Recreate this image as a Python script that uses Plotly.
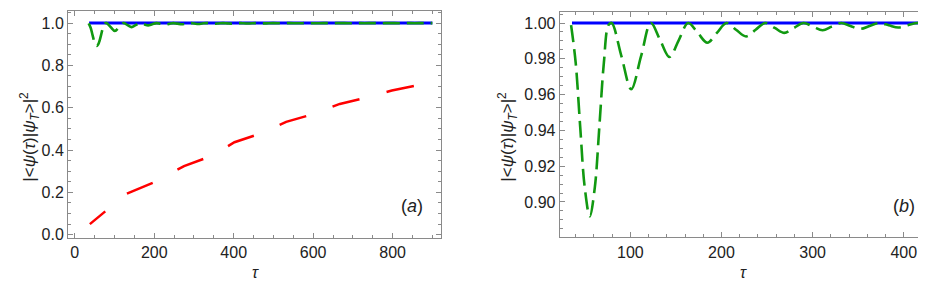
import plotly.graph_objects as go

# ---------------- data ----------------
# green: fidelity oscillation (shared by both panels; panel b shows tau <= 421)
tau_green = [35, 40, 45, 50, 55.5, 61, 66, 71, 76, 79.5,
             90.2, 101, 111.8, 122.5,
             132.7, 143, 153.2, 163.5,
             174, 184.5, 195, 205.5,
             216, 227, 237.5, 248,
             258.5, 269, 279.5, 290,
             300.5, 311, 321, 331.5,
             341.5, 352, 362.5, 373,
             383.5, 394, 404.5, 415, 421,
             436, 457, 478, 499, 520, 541, 562, 583, 604, 625,
             646, 667, 688, 709, 730, 751, 772, 793, 814, 835, 856, 877, 900]
fid_green = [0.9988, 0.978, 0.942, 0.908, 0.892, 0.908, 0.942, 0.978, 0.9988, 1.0,
             0.9815, 0.963, 0.9815, 1.0,
             0.9905, 0.981, 0.9905, 1.0,
             0.9945, 0.989, 0.9945, 1.0,
             0.99625, 0.9925, 0.99625, 1.0,
             0.99725, 0.9945, 0.99725, 1.0,
             0.998, 0.996, 0.998, 1.0,
             0.99835, 0.9967, 0.99835, 1.0,
             0.99875, 0.9975, 0.99875, 1.0, 0.9993,
             0.998, 1.0, 0.9984, 1.0, 0.9987, 1.0, 0.9989, 1.0, 0.999, 1.0,
             0.9991, 1.0, 0.9992, 1.0, 0.9993, 1.0, 0.9993, 1.0, 0.9994, 1.0, 0.9994, 1.0, 0.9997]

# blue: fidelity = 1
tau_blue_a = [36, 900]
tau_blue_b = [36, 421]
fid_blue = [1.0, 1.0]

# red: slowly rising fidelity (panel a only)
tau_red = [38, 76, 130, 197, 275, 344, 402, 467, 532, 597, 667, 730, 798, 864]
fid_red = [0.050, 0.108, 0.193, 0.246, 0.324, 0.372, 0.437, 0.478, 0.533, 0.568,
           0.618, 0.646, 0.681, 0.707]

# ticks
xticks_a = [0, 200, 400, 600, 800]
yticks_a = [0.0, 0.2, 0.4, 0.6, 0.8, 1.0]
xticks_b = [100, 200, 300, 400]
yticks_b = [0.90, 0.92, 0.94, 0.96, 0.98, 1.00]

panel_labels = ["(<i>a</i>)", "(<i>b</i>)"]
x_title = "<i>τ</i>"
y_title = "|&lt;<i>ψ</i>(<i>τ</i>)|<i>ψ</i><sub><i>T</i></sub>&gt;|<sup>2</sup>"

# ---------------- figure ----------------
W, H = 926, 284
BLUE = "#0000ff"
GREEN = "#119911"
RED = "#ff0000"
FRAME = "#8a8a8a"
TXT = "#222222"
FONT = "Liberation Sans, Arial, Helvetica, sans-serif"

fig = go.Figure()

# panel a
fig.add_trace(go.Scatter(x=tau_red, y=fid_red, mode="lines",
                         line=dict(color=RED, width=2.5, dash="20px,28px,28px,28px,28px,28px,28px,28px,28px,28px,28px,28px,28px,28px,28px,28px"),
                         xaxis="x", yaxis="y", showlegend=False))
fig.add_trace(go.Scatter(x=tau_blue_a, y=fid_blue, mode="lines",
                         line=dict(color=BLUE, width=3),
                         xaxis="x", yaxis="y", showlegend=False))
fig.add_trace(go.Scatter(x=tau_green, y=fid_green, mode="lines",
                         line=dict(color=GREEN, width=2.6, dash="17px,7px", shape="spline", smoothing=1.0),
                         xaxis="x", yaxis="y", showlegend=False))

# panel b
gb_x = [t for t in tau_green if t <= 421]
gb_y = [f for t, f in zip(tau_green, fid_green) if t <= 421]
fig.add_trace(go.Scatter(x=tau_blue_b, y=fid_blue, mode="lines",
                         line=dict(color=BLUE, width=3),
                         xaxis="x2", yaxis="y2", showlegend=False))
fig.add_trace(go.Scatter(x=gb_x, y=gb_y, mode="lines",
                         line=dict(color=GREEN, width=2.6, dash="17px,7px", shape="spline", smoothing=1.0),
                         xaxis="x2", yaxis="y2", showlegend=False))

def ax(domain, rng, tickvals, fmt, minor_dtick, anchor):
    return dict(domain=domain, range=rng, tickmode="array", tickvals=tickvals,
                ticktext=[fmt.format(v) for v in tickvals],
                ticks="inside", ticklen=5, tickwidth=1, tickcolor=FRAME,
                showline=True, linecolor=FRAME, linewidth=1, mirror="allticks",
                showgrid=False, zeroline=False, anchor=anchor,
                tickfont=dict(family=FONT, size=16, color=TXT),
                minor=dict(dtick=minor_dtick, tick0=0, ticks="inside", ticklen=3,
                           tickcolor=FRAME, showgrid=False))

def px(x):
    return x / W

def py(y):
    return 1 - y / H

fig.update_layout(
    width=W, height=H,
    margin=dict(l=0, r=0, t=0, b=0),
    paper_bgcolor="white", plot_bgcolor="white",
    xaxis=ax([px(60), px(432.7)], [-17, 921], xticks_a, "{:d}", 50, "y"),
    yaxis=ax([py(234), py(3.5)], [-0.015, 1.055], yticks_a, "{:.1f}", 0.05, "x"),
    xaxis2=ax([px(551.7), px(921.7)], [22.5, 428.5], xticks_b, "{:d}", 20, "y2"),
    yaxis2=ax([py(233.5), py(4)], [0.8802, 1.0062], yticks_b, "{:.2f}", 0.005, "x2"),
)

ann = []
for cx in [247, 735]:
    ann.append(dict(x=px(cx), y=py(269), xref="paper", yref="paper", text=x_title,
                    showarrow=False, font=dict(family=FONT, size=16, color=TXT),
                    xanchor="center", yanchor="middle"))
for cx in [22, 500]:
    ann.append(dict(x=px(cx), y=py(131), xref="paper", yref="paper", text=y_title,
                    showarrow=False, textangle=-90, font=dict(family=FONT, size=17, color=TXT),
                    xanchor="center", yanchor="middle"))
for lab, cx in zip(panel_labels, [404, 896]):
    ann.append(dict(x=px(cx), y=py(202), xref="paper", yref="paper", text=lab,
                    showarrow=False, font=dict(family=FONT, size=18, color=TXT),
                    xanchor="center", yanchor="middle"))
fig.update_layout(annotations=ann)

fig.write_html("out.html")
